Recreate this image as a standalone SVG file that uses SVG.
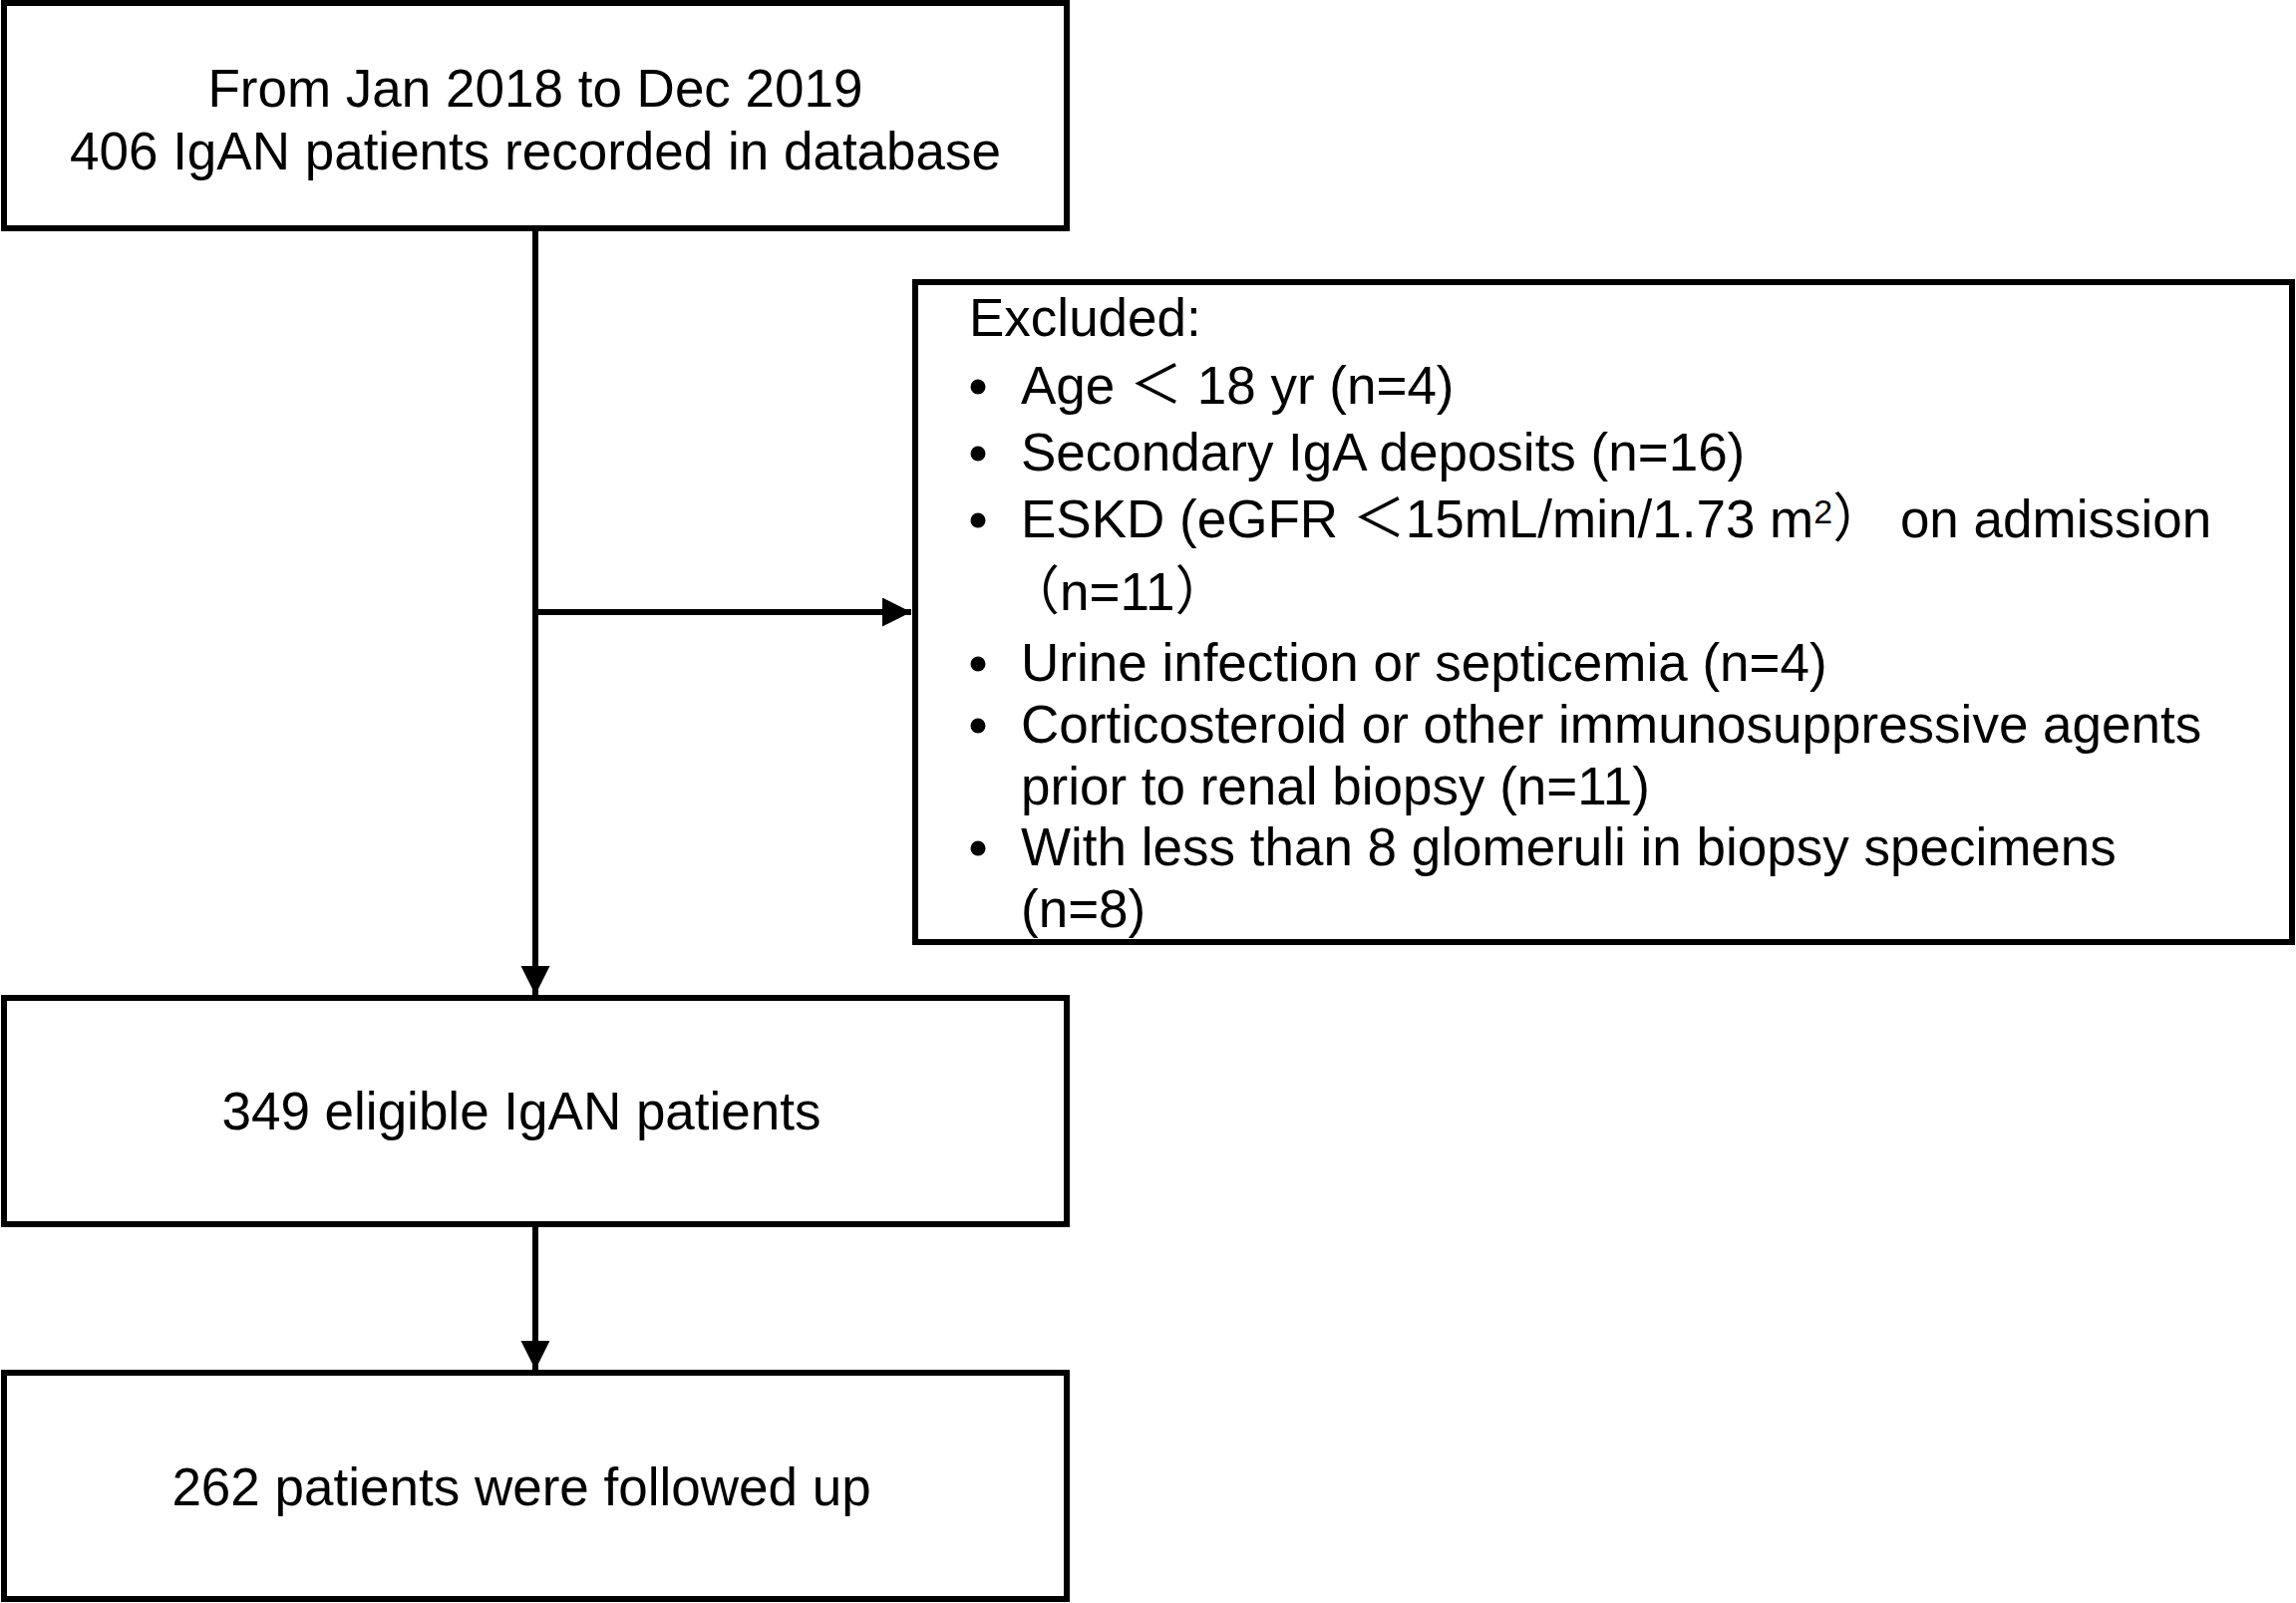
<svg xmlns="http://www.w3.org/2000/svg" width="2303" height="1608" viewBox="0 0 2303 1608">
<defs>
<style>
.box{fill:#fff;stroke:#000;stroke-width:6}
.con{fill:none;stroke:#000;stroke-width:6}
.t{font-family:"Liberation Sans",Arial,"Noto Sans CJK SC",sans-serif;font-size:53px;fill:#000}
.c{text-anchor:middle}
.fw{font-family:"Noto Sans CJK SC","Liberation Sans",sans-serif}
.b{fill:#000}
</style>
<marker id="ah" markerUnits="userSpaceOnUse" markerWidth="30" markerHeight="30" viewBox="0 0 30 30" refX="29" refY="14.5" orient="auto">
<path d="M0,0 L29,14.5 L0,29 z" fill="#000"/>
</marker>
</defs>
<rect width="2303" height="1608" fill="#fff"/>
<g id="connectors">
<path class="con" d="M537,232 L537,998" marker-end="url(#ah)"/>
<path class="con" d="M537,614 L914,614" marker-end="url(#ah)"/>
<path class="con" d="M537,1231 L537,1374" marker-end="url(#ah)"/>
</g>
<g id="start">
<rect class="box" x="4" y="3" width="1066" height="226"/>
<text class="t c" x="537" y="107">From Jan 2018 to Dec 2019</text>
<text class="t c" x="537" y="170">406 IgAN patients recorded in database</text>
</g>
<g id="excluded">
<rect class="box" x="918" y="283" width="1381" height="662"/>
<text class="t" x="972" y="337">Excluded:</text>
<circle class="b" cx="981" cy="388" r="7.5"/>
<text class="t" x="1024" y="405">Age <tspan class="fw">＜</tspan> 18 yr (n=4)</text>
<circle class="b" cx="981" cy="455" r="7.5"/>
<text class="t" x="1024" y="472">Secondary IgA deposits (n=16)</text>
<circle class="b" cx="981" cy="522" r="7.5"/>
<text class="t" x="1024" y="539">ESKD (eGFR <tspan class="fw">＜</tspan>15mL/min/1.73 m<tspan font-size="34" dy="-14">2</tspan><tspan class="fw" dy="14">）</tspan> on admission</text>
<text class="t" x="1010" y="612"><tspan class="fw">（</tspan>n=11<tspan class="fw">）</tspan></text>
<circle class="b" cx="981" cy="666" r="7.5"/>
<text class="t" x="1024" y="683">Urine infection or septicemia (n=4)</text>
<circle class="b" cx="981" cy="728" r="7.5"/>
<text class="t" x="1024" y="745">Corticosteroid or other immunosuppressive agents</text>
<text class="t" x="1024" y="807">prior to renal biopsy (n=11)</text>
<circle class="b" cx="981" cy="851" r="7.5"/>
<text class="t" x="1024" y="868">With less than 8 glomeruli in biopsy specimens</text>
<text class="t" x="1024" y="930">(n=8)</text>
</g>
<g id="eligible">
<rect class="box" x="4" y="1001" width="1066" height="227"/>
<text class="t c" x="523" y="1133">349 eligible IgAN patients</text>
</g>
<g id="followed">
<rect class="box" x="4" y="1377" width="1066" height="227"/>
<text class="t c" x="523" y="1510">262 patients were followed up</text>
</g>
</svg>
